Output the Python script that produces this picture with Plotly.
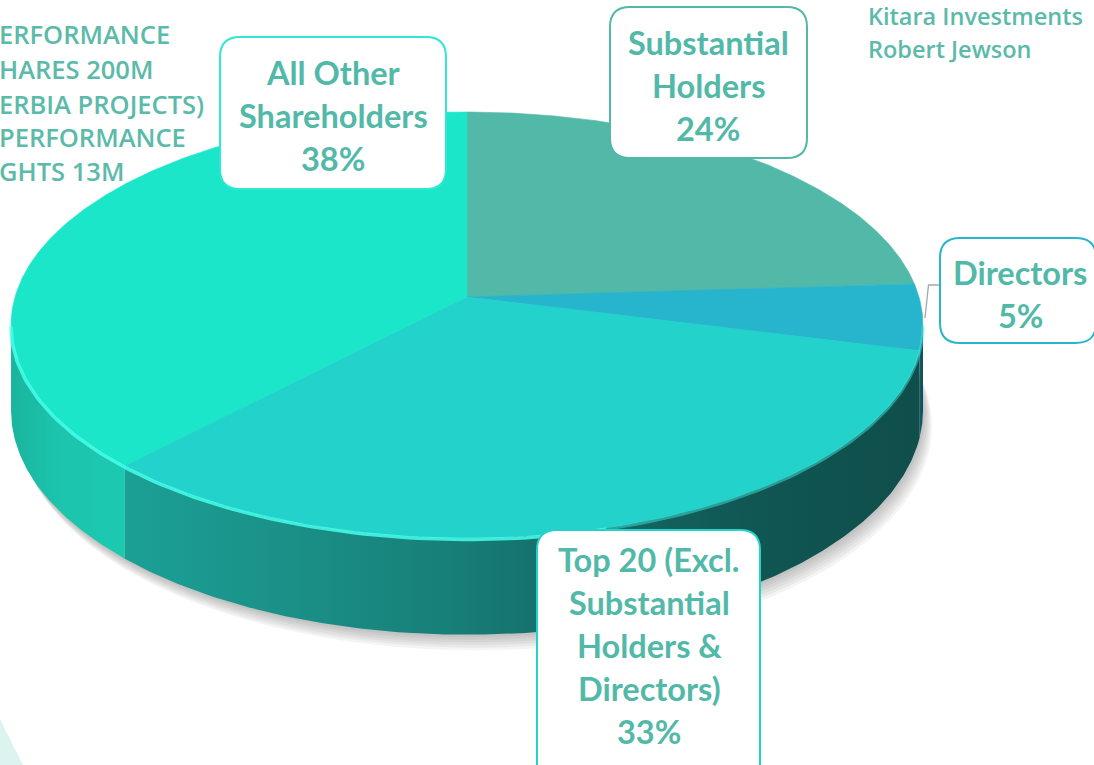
import math
import plotly.graph_objects as go

# ---------------- data ----------------
categories = ["Substantial Holders", "Directors",
              "Top 20 (Excl. Substantial Holders & Directors)",
              "All Other Shareholders"]
shares_pct = [24, 5, 33, 38]
label_lines = [["Substantial", "Holders"],
               ["Directors"],
               ["Top 20 (Excl.", "Substantial", "Holders &", "Directors)"],
               ["All Other", "Shareholders"]]
top_colors = ["#52b8a8", "#27b5cd", "#22d2cb", "#1be6c9"]
box_border_colors = ["#52b8a8", "#27b5cd", "#22d2cb", "#2ee8d2"]
note_left = ["ERFORMANCE", "HARES 200M", "ERBIA PROJECTS)", "PERFORMANCE", "GHTS 13M"]
note_right = ["Kitara Investments", "Robert Jewson"]

TEXT_COL = "#52b9a8"
NOTE_COL = "#5bbaa9"
FONT = "Lato"
NOTE_FONT = "Open Sans"

# ---------------- 3D pie projection ----------------
CX, CY = 467.0, 297.0      # projected pie centre (pixels)
SX, SY = 452.0, 209.3      # horizontal / vertical scale
A = 0.1315                 # perspective strength
H = 84.0                   # thickness


def proj(theta_deg, drop=0.0):
    t = math.radians(theta_deg)
    x = math.sin(t)
    z = -math.cos(t)
    w = 1.0 - A * z
    return CX + SX * x / w, CY + SY * z / w + drop / w


def arc(t1, t2, drop=0.0, step=1.0):
    n = max(2, int(abs(t2 - t1) / step) + 1)
    pts = [proj(t1 + (t2 - t1) * i / (n - 1), drop) for i in range(n)]
    return [p[0] for p in pts], [p[1] for p in pts]


total = float(sum(shares_pct))
bounds = []
acc = 0.0
for v in shares_pct:
    s = acc / total * 360.0
    acc += v
    e = acc / total * 360.0
    bounds.append((s, e))

fig = go.Figure()


def poly(xs, ys, color, line_color=None, gradient=None):
    kw = {}
    if gradient is not None:
        kw["fillgradient"] = gradient
    else:
        kw["fillcolor"] = color
    fig.add_trace(go.Scatter(
        x=xs + [xs[0]], y=ys + [ys[0]], mode="lines", fill="toself",
        line=dict(width=0.6 if line_color else 0, color=line_color or "rgba(0,0,0,0)"),
        hoverinfo="skip", showlegend=False, **kw))


# shadow
for k in range(1, 7):
    xs, ys = arc(0, 360, H, 3)
    xs = [x + 1.5 * k for x in xs]
    ys = [y + 2.6 * k for y in ys]
    poly(xs, ys, "rgba(60,60,60,0.055)")

# visible side range
t_left_vis = math.degrees(math.acos(-A))      # ~97.6
t_right_vis = 360 - t_left_vis                # ~262.4

side_grad = [
    None,
    [[0, "rgb(18,96,110)"], [1, "rgb(14,70,80)"]],
    [[0, "rgb(27,160,150)"], [0.22, "rgb(26,143,134)"], [0.41, "rgb(23,127,120)"],
     [0.6, "rgb(19,104,99)"], [0.8, "rgb(16,86,82)"], [1, "rgb(15,78,75)"]],
    [[0, "rgb(26,180,158)"], [0.4, "rgb(28,196,172)"], [1, "rgb(28,202,176)"]],
]

for i, (s, e) in enumerate(bounds):
    lo = max(s, t_left_vis)
    hi = min(e, t_right_vis)
    if hi <= lo:
        continue
    xt, yt = arc(lo, hi, 0, 0.5)
    xb, yb = arc(lo, hi, H, 0.5)
    xs = xt + xb[::-1]
    ys = yt + yb[::-1]
    poly(xs, ys, None, gradient=dict(type="horizontal", colorscale=side_grad[i]))

# top faces
for i, (s, e) in enumerate(bounds):
    xs, ys = arc(s, e, 0, 0.5)
    poly([CX] + xs, [CY] + ys, top_colors[i], line_color=top_colors[i])

# rim highlight along front edge
hx, hy = arc(t_right_vis, bounds[2][0] + 60, 0, 1)
fig.add_trace(go.Scatter(x=hx, y=[y + 1.5 for y in hy], mode="lines",
                         line=dict(color="rgba(70,255,235,0.85)", width=3.5),
                         hoverinfo="skip", showlegend=False))
hx, hy = arc(bounds[2][0] + 60, t_left_vis, 0, 1)
fig.add_trace(go.Scatter(x=hx, y=[y + 1.5 for y in hy], mode="lines",
                         line=dict(color="rgba(60,230,220,0.5)", width=3),
                         hoverinfo="skip", showlegend=False))

# ---------------- label boxes ----------------
shapes = []


def rrect(x0, y0, x1, y1, r):
    return (f"M{x0+r},{y0} L{x1-r},{y0} Q{x1},{y0} {x1},{y0+r} "
            f"L{x1},{y1-r} Q{x1},{y1} {x1-r},{y1} L{x0+r},{y1} "
            f"Q{x0},{y1} {x0},{y1-r} L{x0},{y0+r} Q{x0},{y0} {x0+r},{y0} Z")


boxes = [  # x0, y0, x1, y1, text centre x, first line y
    (610, 7, 807, 158, 708, 42.5),
    (940, 238, 1096, 343, 1020, 272),
    (537, 530, 760, 790, 649, 559),
    (220, 37, 446, 189, 333, 72.5),
]
LINE_GAP = 43

# Directors leader line
shapes.append(dict(type="path", xref="x", yref="y",
                   path="M925,318 L928.5,285 L940,285",
                   line=dict(color="#a6a6a6", width=1.3), layer="above"))

annotations = []
for i, (x0, y0, x1, y1, tx, ty) in enumerate(boxes):
    shapes.append(dict(type="path", xref="x", yref="y",
                       path=rrect(x0, y0, x1, y1, 20),
                       fillcolor="white", line=dict(color=box_border_colors[i], width=2),
                       layer="above"))
    lines = label_lines[i] + [f"{shares_pct[i]}%"]
    for j, ln in enumerate(lines):
        annotations.append(dict(x=tx, y=ty + j * LINE_GAP, xref="x", yref="y",
                                text=ln, showarrow=False, xanchor="center", yanchor="middle",
                                font=dict(family=FONT, size=32.5, color=TEXT_COL, weight="bold")))

# side notes
left_ys = [34, 69, 104, 137, 171]
for txt, yy in zip(note_left, left_ys):
    annotations.append(dict(x=0, y=yy, xref="x", yref="y", text=txt, showarrow=False,
                            xanchor="left", yanchor="middle", xshift=-3,
                            font=dict(family=NOTE_FONT, size=25.5, color=NOTE_COL, weight=600)))
for j, txt in enumerate(note_right):
    annotations.append(dict(x=866, y=16 + j * 33, xref="x", yref="y", text=txt, showarrow=False,
                            xanchor="left", yanchor="middle",
                            font=dict(family=NOTE_FONT, size=23.5, color=NOTE_COL, weight=600)))

# bottom-left decoration
shapes.append(dict(type="path", xref="x", yref="y", path="M0,719 L23,765 L0,765 Z",
                   fillcolor="#ddf3f0", line=dict(width=0), layer="below"))

fig.update_layout(
    width=1094, height=765,
    margin=dict(l=0, r=0, t=0, b=0),
    paper_bgcolor="white", plot_bgcolor="white",
    xaxis=dict(range=[0, 1094], visible=False, fixedrange=True),
    yaxis=dict(range=[765, 0], visible=False, fixedrange=True),
    shapes=shapes, annotations=annotations, showlegend=False,
)

fig.write_html("out.html", config={"displayModeBar": False},
               post_script="document.body.style.margin='0';document.body.style.overflow='hidden';")
